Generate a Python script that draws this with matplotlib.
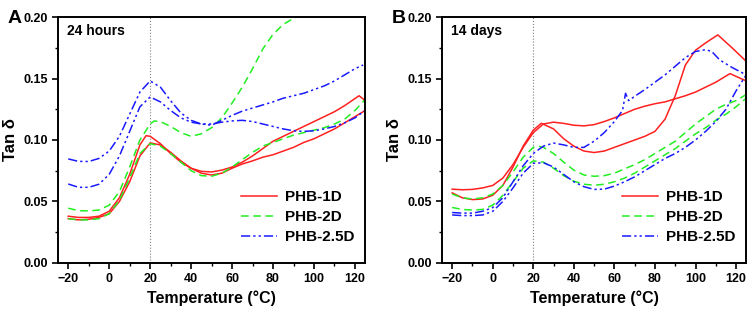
import matplotlib.pyplot as plt
from matplotlib.ticker import MultipleLocator

plt.rcParams['font.family'] = ['Liberation Sans', 'DejaVu Sans']
plt.rcParams['font.weight'] = 'bold'

# Panel A (24 hours): two specimens per formulation
a_red1_x = [-20, -15, -10, -5, 0, 5, 10, 15, 18, 20, 25, 30, 35, 40, 45, 50, 55, 60, 65, 70, 75, 80, 85, 90, 95, 100, 105, 110, 115, 122, 125]
a_red1_y = [0.038, 0.037, 0.037, 0.038, 0.042, 0.053, 0.072, 0.096, 0.1035, 0.103, 0.097, 0.089, 0.082, 0.077, 0.0745, 0.074, 0.0755, 0.078, 0.082, 0.087, 0.093, 0.099, 0.103, 0.107, 0.111, 0.115, 0.119, 0.123, 0.128, 0.136, 0.132]
a_red2_x = [-20, -15, -10, -5, 0, 5, 10, 15, 20, 25, 30, 35, 40, 45, 50, 55, 60, 65, 70, 75, 80, 85, 90, 95, 100, 105, 110, 115, 120, 125]
a_red2_y = [0.036, 0.035, 0.0355, 0.037, 0.040, 0.050, 0.066, 0.087, 0.0976, 0.096, 0.090, 0.083, 0.077, 0.073, 0.0715, 0.073, 0.077, 0.0805, 0.083, 0.086, 0.088, 0.091, 0.094, 0.098, 0.101, 0.105, 0.109, 0.114, 0.119, 0.124]

a_green1_x = [-20, -15, -10, -5, 0, 5, 10, 15, 20, 22, 25, 30, 35, 40, 45, 50, 55, 60, 65, 70, 75, 80, 85, 90, 95, 100, 110, 125]
a_green1_y = [0.0445, 0.0425, 0.0423, 0.043, 0.047, 0.058, 0.078, 0.100, 0.113, 0.1155, 0.115, 0.111, 0.106, 0.103, 0.105, 0.110, 0.118, 0.130, 0.143, 0.158, 0.174, 0.186, 0.194, 0.199, 0.202, 0.205, 0.208, 0.212]
a_green2_x = [-20, -15, -10, -5, 0, 5, 10, 15, 20, 25, 30, 35, 40, 45, 50, 55, 60, 65, 70, 75, 80, 85, 90, 95, 100, 105, 110, 115, 120, 125]
a_green2_y = [0.036, 0.035, 0.035, 0.036, 0.040, 0.051, 0.069, 0.089, 0.097, 0.095, 0.089, 0.082, 0.075, 0.071, 0.0705, 0.073, 0.078, 0.084, 0.090, 0.095, 0.098, 0.101, 0.104, 0.106, 0.108, 0.110, 0.113, 0.117, 0.124, 0.133]

a_blue1_x = [-20, -15, -10, -5, 0, 5, 10, 15, 20, 25, 30, 35, 40, 45, 50, 55, 60, 65, 70, 75, 80, 85, 90, 95, 100, 105, 110, 115, 120, 124]
a_blue1_y = [0.0846, 0.0826, 0.0825, 0.085, 0.091, 0.103, 0.121, 0.139, 0.148, 0.143, 0.132, 0.122, 0.116, 0.113, 0.112, 0.116, 0.120, 0.1235, 0.126, 0.1285, 0.131, 0.134, 0.136, 0.138, 0.141, 0.144, 0.148, 0.153, 0.158, 0.161]
a_blue2_x = [-20, -15, -10, -5, 0, 5, 10, 15, 20, 25, 30, 35, 40, 45, 50, 55, 60, 65, 70, 75, 80, 85, 90, 95, 100, 105, 110, 115, 120, 125]
a_blue2_y = [0.0642, 0.0615, 0.0615, 0.064, 0.072, 0.087, 0.107, 0.127, 0.135, 0.131, 0.124, 0.118, 0.1145, 0.113, 0.113, 0.1145, 0.1155, 0.116, 0.115, 0.113, 0.111, 0.109, 0.1075, 0.107, 0.1075, 0.109, 0.111, 0.114, 0.118, 0.124]

# Panel B (14 days)
b_red1_x = [-20, -15, -10, -5, 0, 5, 10, 15, 20, 25, 30, 35, 40, 45, 50, 55, 60, 65, 70, 75, 80, 85, 90, 95, 100, 105, 110, 117, 125]
b_red1_y = [0.060, 0.0595, 0.0598, 0.061, 0.063, 0.069, 0.080, 0.094, 0.106, 0.113, 0.1145, 0.1135, 0.112, 0.1115, 0.1125, 0.115, 0.118, 0.1215, 0.125, 0.1275, 0.1295, 0.131, 0.1335, 0.136, 0.139, 0.143, 0.147, 0.154, 0.148]
b_red2_x = [-20, -15, -10, -5, 0, 5, 10, 15, 20, 24, 30, 35, 40, 45, 50, 55, 60, 65, 70, 75, 80, 85, 90, 95, 100, 105, 111, 118, 125]
b_red2_y = [0.057, 0.053, 0.0515, 0.052, 0.055, 0.063, 0.078, 0.095, 0.108, 0.1136, 0.109, 0.101, 0.095, 0.091, 0.0898, 0.091, 0.094, 0.097, 0.100, 0.103, 0.107, 0.117, 0.136, 0.161, 0.173, 0.179, 0.1855, 0.175, 0.164]

b_green1_x = [-20, -15, -10, -5, 0, 5, 10, 15, 20, 23, 25, 30, 35, 40, 45, 50, 55, 60, 65, 70, 75, 80, 85, 90, 95, 100, 105, 110, 115, 120, 125]
b_green1_y = [0.056, 0.053, 0.052, 0.053, 0.056, 0.063, 0.074, 0.086, 0.094, 0.0947, 0.094, 0.089, 0.082, 0.0755, 0.0715, 0.0705, 0.071, 0.073, 0.0765, 0.080, 0.084, 0.089, 0.094, 0.099, 0.106, 0.113, 0.119, 0.125, 0.129, 0.132, 0.137]
b_green2_x = [-20, -15, -10, -5, 0, 5, 10, 15, 20, 25, 30, 35, 40, 45, 50, 55, 60, 65, 70, 75, 80, 85, 90, 95, 100, 105, 110, 115, 120, 125]
b_green2_y = [0.0451, 0.0435, 0.043, 0.0435, 0.047, 0.055, 0.066, 0.077, 0.083, 0.082, 0.077, 0.071, 0.0665, 0.064, 0.0632, 0.064, 0.066, 0.069, 0.073, 0.078, 0.083, 0.088, 0.093, 0.099, 0.105, 0.110, 0.116, 0.121, 0.127, 0.134]

b_blue1_x = [-20, -15, -10, -5, 0, 5, 10, 15, 20, 25, 30, 35, 40, 45, 50, 55, 60, 64, 65.5, 67, 70, 75, 80, 85, 90, 95, 100, 105, 108, 112, 118, 125]
b_blue1_y = [0.041, 0.0405, 0.0405, 0.042, 0.045, 0.053, 0.066, 0.079, 0.089, 0.095, 0.0975, 0.096, 0.094, 0.094, 0.099, 0.106, 0.115, 0.124, 0.138, 0.132, 0.1355, 0.141, 0.147, 0.153, 0.160, 0.167, 0.172, 0.1735, 0.172, 0.165, 0.159, 0.153]
b_blue2_x = [-20, -15, -10, -5, 0, 5, 10, 15, 20, 25, 30, 35, 40, 45, 50, 55, 60, 65, 70, 75, 80, 85, 90, 95, 100, 105, 110, 115, 120, 125]
b_blue2_y = [0.039, 0.0385, 0.0385, 0.039, 0.042, 0.050, 0.061, 0.073, 0.081, 0.0815, 0.078, 0.072, 0.066, 0.062, 0.0598, 0.060, 0.0625, 0.066, 0.070, 0.075, 0.080, 0.085, 0.089, 0.094, 0.100, 0.107, 0.115, 0.125, 0.140, 0.153]

labels = ['PHB-1D', 'PHB-2D', 'PHB-2.5D']
red = '#ff2020'
green = '#22ee22'
blue = '#1a1aff'
dashdotdot = (0, (6, 2, 1.5, 2, 1.5, 2))


def draw_panel(ax, curves, note, letter):
    # curves: list of (x1, y1, x2, y2) for red, green, blue
    styles = [(red, '-'), (green, (0, (5, 3))), (blue, dashdotdot)]
    for (x1, y1, x2, y2), (col, ls), lab in zip(curves, styles, labels):
        ax.plot(x1, y1, color=col, linestyle=ls, linewidth=1.1, label=lab)
        ax.plot(x2, y2, color=col, linestyle=ls, linewidth=1.1)
    ax.axvline(20, color='gray', linestyle=':', linewidth=0.8, zorder=0)

    ax.set_xlim(-25, 125)
    ax.set_ylim(0, 0.2)
    ax.xaxis.set_major_locator(MultipleLocator(20))
    ax.xaxis.set_minor_locator(MultipleLocator(10))
    ax.yaxis.set_major_locator(MultipleLocator(0.05))
    ax.yaxis.set_minor_locator(MultipleLocator(0.025))
    ax.yaxis.set_major_formatter(plt.FormatStrFormatter('%.2f'))
    ax.tick_params(which='major', direction='out', length=4, width=1.2, labelsize=9)
    ax.tick_params(which='minor', direction='out', length=2.5, width=1.0)
    for s in ax.spines.values():
        s.set_linewidth(1.4)

    ax.set_xlabel('Temperature (°C)', fontsize=11.5, fontweight='bold', labelpad=4)
    ax.set_ylabel('Tan δ', fontsize=12, fontweight='bold', labelpad=4)
    ax.text(0.03, 0.945, note, transform=ax.transAxes, fontsize=10,
            fontweight='bold', va='center', ha='left')
    ax.text(-0.165, 1.03, letter, transform=ax.transAxes, fontsize=14,
            fontweight='bold', va='top', ha='left')

    leg = ax.legend(loc='lower right', bbox_to_anchor=(1.01, 0.02), frameon=False,
                    fontsize=11, handlelength=2.4, labelspacing=0.4, handletextpad=0.5)
    for t in leg.get_texts():
        t.set_fontweight('bold')


fig = plt.figure(figsize=(7.53, 3.16), dpi=100)
ax_a = fig.add_axes([0.077, 0.168, 0.408, 0.778])
ax_b = fig.add_axes([0.587, 0.168, 0.404, 0.778])

draw_panel(ax_a, [(a_red1_x, a_red1_y, a_red2_x, a_red2_y),
                  (a_green1_x, a_green1_y, a_green2_x, a_green2_y),
                  (a_blue1_x, a_blue1_y, a_blue2_x, a_blue2_y)], '24 hours', 'A')
draw_panel(ax_b, [(b_red1_x, b_red1_y, b_red2_x, b_red2_y),
                  (b_green1_x, b_green1_y, b_green2_x, b_green2_y),
                  (b_blue1_x, b_blue1_y, b_blue2_x, b_blue2_y)], '14 days', 'B')

fig.savefig('out.png', dpi=100)
